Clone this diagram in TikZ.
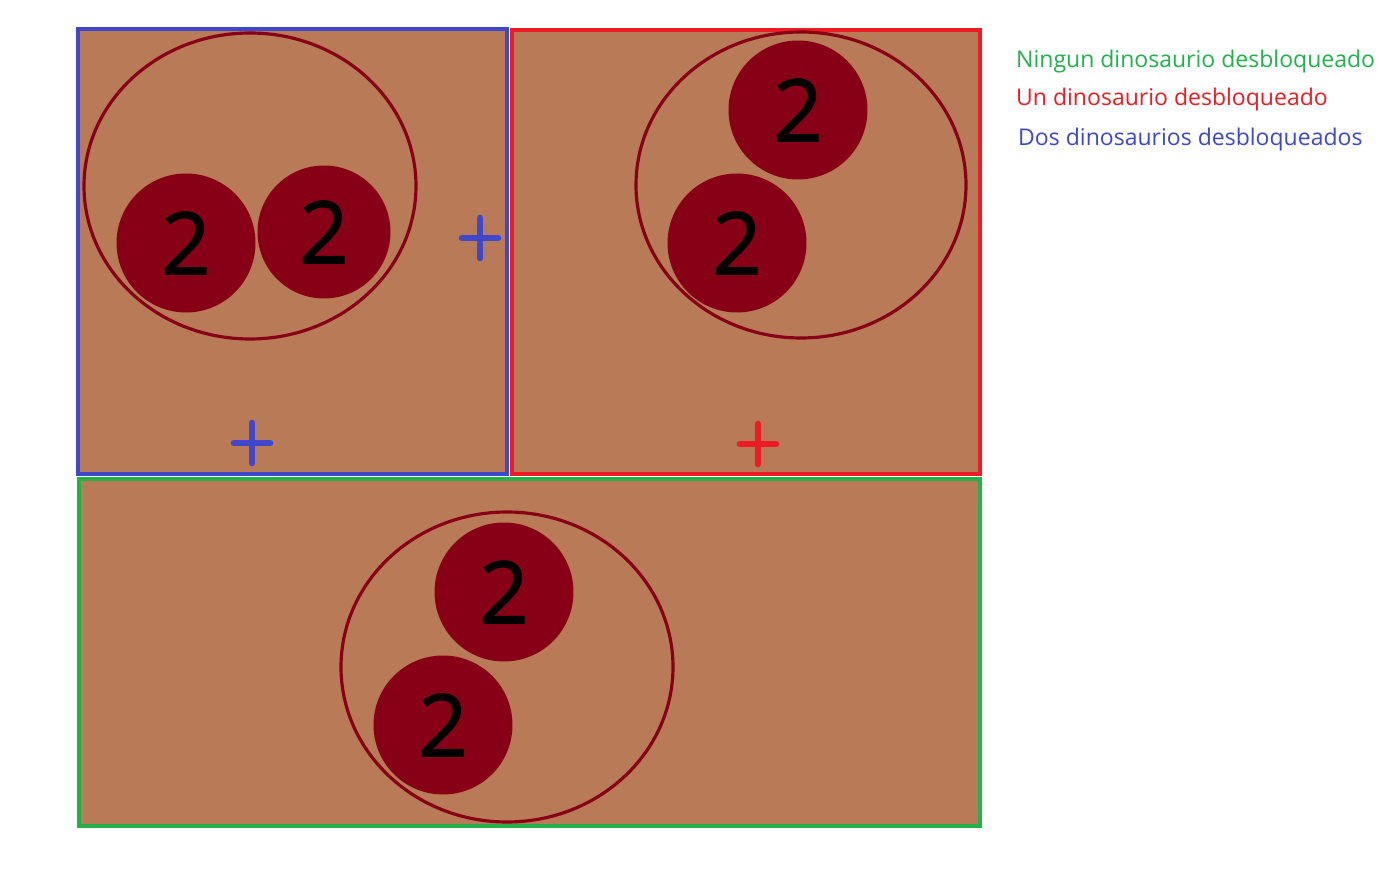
\documentclass[tikz,border=0pt]{standalone}
\usepackage{fontspec}
\setmainfont{Open Sans}
\newfontfamily\digitfont[FakeBold=1.6]{Open Sans}
\usetikzlibrary{positioning}
\definecolor{soilbrown}{HTML}{B97A57}
\definecolor{dinored}{HTML}{880015}
\definecolor{nonegreen}{HTML}{22B14C}
\definecolor{onered}{HTML}{ED1C24}
\definecolor{twoblue}{HTML}{3F48CC}

\begin{document}
\begin{tikzpicture}[x=0.02cm, y=-0.02cm,
  panel/.style={fill=soilbrown, line width=2.6pt},
  ring/.style={draw=dinored, line width=1.8pt},
  disc/.style={circle, fill=dinored, inner sep=0pt, minimum size=2.78cm,
    font=\digitfont\fontsize{49}{49}\selectfont, text=black},
  plusmark/.style={line width=3.8pt, line cap=round},
  legend/.style={anchor=west, font=\fontsize{13.1}{15}\selectfont}]

\useasboundingbox (0,0) rectangle (1394,884);

% ============================================================
% Panels
% ============================================================
\draw[panel, draw=twoblue] (78,29) rectangle (507,474);
\draw[panel, draw=onered] (512,30) rectangle (980,474);
\draw[panel, draw=nonegreen] (79,479) rectangle (980,826);

% ============================================================
% Top left: two discs side by side
% ============================================================
\draw[ring] (250,186) ellipse (166 and 153);
\node[disc] (tl1) at (186,243) {2};
\node[disc, minimum size=2.66cm] (tl2) at (324,232) {2};

% ============================================================
% Top right: two discs stacked diagonally
% ============================================================
\draw[ring] (801,185) ellipse (165 and 153);
\node[disc] (tr1) at (798,110) {2};
\node[disc] (tr2) at (737,243) {2};

% ============================================================
% Bottom: same arrangement
% ============================================================
\draw[ring] (507,667) ellipse (166 and 155);
\node[disc] (bt1) at (504,592) {2};
\node[disc] (bt2) at (443,725) {2};

% Plus marks
\foreach \px/\py/\pc in {480/238/twoblue, 252/443/twoblue, 758/444/onered} {
  \draw[plusmark, \pc] (\px-18,\py) -- (\px+18,\py);
  \draw[plusmark, \pc] (\px,\py-20) -- (\px,\py+20);
}

% ============================================================
% Legend
% ============================================================
\node[legend, text=nonegreen] (lgnone) at (1010,62) {Ningun dinosaurio desbloqueado};
\node[legend, text=onered] (lgone) at (1010,100) {Un dinosaurio desbloqueado};
\node[legend, text=twoblue] (lgtwo) at (1012,140) {Dos dinosaurios desbloqueados};

\end{tikzpicture}
\end{document}
